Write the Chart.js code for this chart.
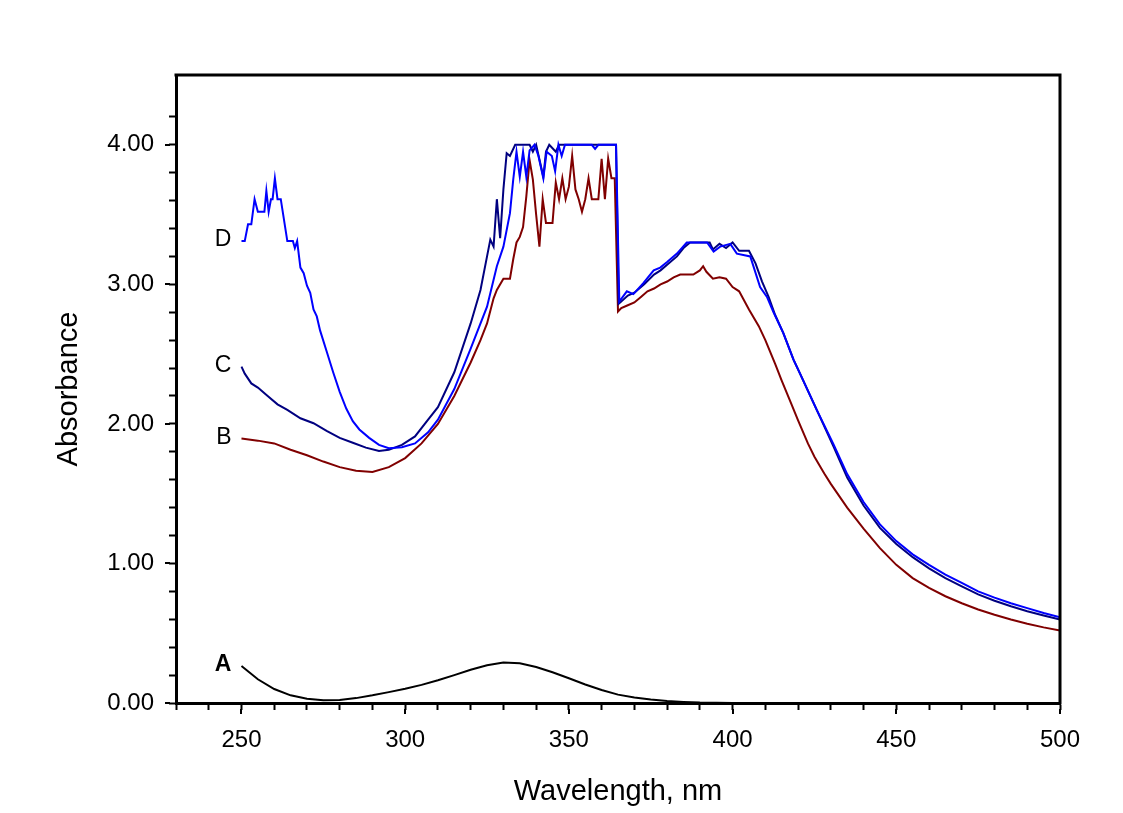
<!DOCTYPE html>
<html>
<head>
<meta charset="utf-8">
<title>Absorbance spectra</title>
<script src="https://cdn.jsdelivr.net/npm/chart.js@4.4.1/dist/chart.umd.min.js"></script>
<style>
  html, body { margin: 0; padding: 0; background: #fff; }
  #wrap { width: 1123px; height: 813px; position: relative; }
</style>
</head>
<body>
<div id="wrap"><canvas id="spectra"></canvas></div>
<script>
// ---- data (wavelength in nm, absorbance) ----
const wlA  = [250,255,260,265,270,275,280,285,290,295,300,305,310,315,320,325,330,335,340,345,350,355,360,365,370,375,380,385,390,395,400];
const absA = [0.265,0.17,0.10,0.055,0.03,0.02,0.022,0.035,0.055,0.078,0.102,0.13,0.163,0.20,0.238,0.27,0.29,0.285,0.258,0.22,0.177,0.133,0.093,0.06,0.04,0.025,0.015,0.008,0.003,0.001,0];

const wlB  = [250,255,260,265,270,275,280,285,290,295,300,305,310,315,320,323,325,327,328,330,332,333,334,335,336,337,338,339,340,341,342,343,344,345,346,347,348,349,350,351,352,353,354,355,356,357,358,359,360,361,362,363,364,365,366,368,370,372,374,376,378,380,382,384,386,388,390,391,392,394,396,398,400,402,405,408,410,413,415,418,420,423,425,428,430,435,440,445,450,455,460,465,470,475,480,485,490,495,500];
const absB = [1.895,1.88,1.86,1.815,1.775,1.73,1.69,1.665,1.656,1.69,1.755,1.86,2.00,2.20,2.44,2.60,2.72,2.90,2.96,3.04,3.04,3.18,3.30,3.34,3.41,3.63,3.89,3.75,3.50,3.27,3.61,3.44,3.44,3.44,3.73,3.61,3.76,3.61,3.70,3.92,3.68,3.61,3.52,3.61,3.76,3.61,3.61,3.61,3.90,3.61,3.90,3.76,3.76,2.805,2.83,2.85,2.87,2.91,2.95,2.97,3.00,3.02,3.05,3.07,3.07,3.07,3.10,3.13,3.09,3.04,3.05,3.04,2.98,2.95,2.82,2.70,2.60,2.43,2.31,2.14,2.025,1.86,1.765,1.645,1.57,1.40,1.25,1.11,0.99,0.895,0.825,0.765,0.715,0.67,0.632,0.598,0.568,0.542,0.52];

const wlC  = [250,251,253,255,258,261,264,268,272,276,280,284,288,292,295,299,303,307,310,315,320,323,325,326,327,328,329,330,331,332,333.6,338,339,340,342.2,343,344,346,347,364.4,365.2,368,370,373,376,378,380,383,385,387,393,394,396,398,400,402,405,407,409,411,413,415.5,418.6,420.6,425.7,430.8,435,440,445,450,455,460,465,470,475,480,485,490,495,500];
const absC = [2.41,2.36,2.29,2.26,2.20,2.14,2.10,2.04,2.005,1.95,1.90,1.865,1.83,1.806,1.814,1.85,1.91,2.03,2.12,2.37,2.72,2.96,3.20,3.32,3.27,3.61,3.33,3.68,3.94,3.92,4.00,4.00,3.95,4.00,3.77,3.95,4.00,3.95,4.00,4.00,2.86,2.92,2.94,3.00,3.07,3.10,3.14,3.20,3.26,3.30,3.30,3.25,3.29,3.26,3.30,3.24,3.24,3.15,3.02,2.91,2.78,2.65,2.46,2.36,2.10,1.84,1.615,1.415,1.255,1.14,1.045,0.965,0.895,0.835,0.778,0.733,0.693,0.658,0.627,0.598];

const wlD  = [250,251,252,253,254,255,257,257.6,258.3,259,259.5,260.2,261,262,264,265.7,266.3,267,268,269,270,271,272,273,274,276,278,280,282,284,286,289,292,295,299,303,307,310,315,320,325,328,330,332,333,334,335,336,337,338,339.5,340.7,342.2,343.2,344.8,345.8,346.8,347.8,348.8,357,358,359,364.4,365.4,367.7,369.7,372.8,375.9,377.9,380,383,386,392.2,394.2,396.2,399.3,401.3,405.4,408.4,410.5,412.5,415.5,418.6,420.6,425.7,430.8,435,440,445,450,455,460,465,470,475,480,485,490,495,500];
const absD = [3.31,3.31,3.43,3.43,3.61,3.52,3.52,3.67,3.52,3.61,3.61,3.76,3.61,3.61,3.31,3.31,3.26,3.31,3.12,3.08,2.99,2.94,2.82,2.77,2.67,2.52,2.37,2.23,2.11,2.02,1.96,1.90,1.85,1.826,1.833,1.86,1.94,2.03,2.25,2.54,2.84,3.13,3.27,3.51,3.75,3.95,3.77,3.95,3.77,3.96,4.00,3.92,3.76,3.95,3.92,3.81,4.00,3.92,4.00,4.00,3.97,4.00,4.00,2.877,2.95,2.93,3.01,3.10,3.12,3.16,3.22,3.30,3.30,3.235,3.27,3.29,3.22,3.20,2.98,2.91,2.80,2.65,2.46,2.36,2.10,1.855,1.64,1.44,1.28,1.16,1.065,0.99,0.92,0.86,0.80,0.755,0.715,0.68,0.645,0.615];

const curveNames = ['D', 'C', 'B', 'A'];
const curveColors = ['#0000ff', '#000080', '#800000', '#000000'];

const FONT = '"Liberation Sans", Arial, sans-serif';

const pts = (wl, ab) => wl.map((x, i) => ({ x: x, y: ab[i] }));

// top/right frame, longer major ticks, and the A-D curve labels
const framePlugin = {
  id: 'framePlugin',
  afterDraw(chart) {
    const ctx = chart.ctx;
    const a = chart.chartArea;
    const xs = chart.scales.x, ys = chart.scales.y;
    ctx.save();
    ctx.strokeStyle = '#000';
    ctx.lineWidth = 3;
    ctx.beginPath();
    ctx.moveTo(a.left - 1.5, a.top);
    ctx.lineTo(a.right, a.top);
    ctx.lineTo(a.right, a.bottom + 1.5);
    ctx.stroke();

    ctx.lineWidth = 2;
    ctx.beginPath();
    xs.ticks.forEach(t => {
      if (t.value % 50 === 0) {
        const px = Math.round(xs.getPixelForValue(t.value));
        ctx.moveTo(px, a.bottom + 6);
        ctx.lineTo(px, a.bottom + 11);
      }
    });
    ys.ticks.forEach(t => {
      if (Math.abs(t.value - Math.round(t.value)) < 1e-6) {
        const py = Math.round(ys.getPixelForValue(t.value));
        ctx.moveTo(a.left - 6, py);
        ctx.lineTo(a.left - 11, py);
      }
    });
    ctx.stroke();

    // curve labels next to each curve's first point
    ctx.fillStyle = '#000';
    ctx.textAlign = 'right';
    ctx.textBaseline = 'middle';
    chart.data.datasets.forEach(ds => {
      const p = ds.data[0];
      ctx.font = (ds.label === 'A' ? 'bold ' : '') + '23px ' + FONT;
      ctx.fillText(ds.label, xs.getPixelForValue(p.x) - 10, ys.getPixelForValue(p.y) - 1);
    });
    ctx.restore();
  }
};

const series = [pts(wlD, absD), pts(wlC, absC), pts(wlB, absB), pts(wlA, absA)];

new Chart(document.getElementById('spectra'), {
  type: 'line',
  data: {
    datasets: series.map((d, i) => ({
      label: curveNames[i],
      data: d,
      borderColor: curveColors[i],
      borderWidth: 2,
      pointRadius: 0,
      tension: 0,
      fill: false
    }))
  },
  options: {
    responsive: true,
    maintainAspectRatio: false,
    animation: false,
    layout: { padding: { left: 0, top: 75, right: 63, bottom: 0 } },
    plugins: { legend: { display: false }, tooltip: { enabled: false } },
    scales: {
      x: {
        type: 'linear',
        min: 230,
        max: 500,
        afterFit: s => { s.height = 110; },
        ticks: {
          stepSize: 10,
          autoSkip: false,
          maxRotation: 0,
          padding: 16,
          color: '#000',
          font: { family: FONT, size: 24 },
          callback: v => (v % 50 === 0 ? String(v) : '')
        },
        grid: { display: true, drawOnChartArea: false, tickLength: 7, tickWidth: 2, tickColor: '#000' },
        border: { display: true, color: '#000', width: 3 },
        title: { display: true, text: 'Wavelength, nm', color: '#000', font: { family: FONT, size: 29 }, padding: { top: 0, bottom: 4 } }
      },
      y: {
        min: 0,
        max: 4.5,
        afterFit: s => { s.width = 176; },
        afterBuildTicks: s => { s.ticks = s.ticks.filter(t => t.value < 4.45); },
        ticks: {
          stepSize: 0.2,
          autoSkip: false,
          padding: 15,
          color: '#000',
          font: { family: FONT, size: 24 },
          callback: v => (Math.abs(v - Math.round(v)) < 1e-6 ? Math.round(v).toFixed(2) : '')
        },
        grid: { display: true, drawOnChartArea: false, tickLength: 7, tickWidth: 2, tickColor: '#000' },
        border: { display: true, color: '#000', width: 3 },
        title: { display: true, text: 'Absorbance', color: '#000', font: { family: FONT, size: 29 }, padding: { top: 52, bottom: 0 } }
      }
    }
  },
  plugins: [framePlugin]
});
</script>
</body>
</html>
